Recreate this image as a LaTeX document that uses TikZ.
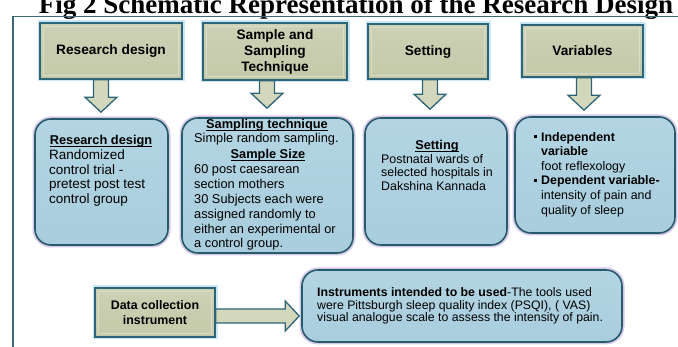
\documentclass[tikz,border=0pt]{standalone}
\usepackage{fontspec}
\setmainfont{Liberation Sans}
\newfontfamily\titlefont{Liberation Serif}
\usetikzlibrary{calc}
\definecolor{khaki}{HTML}{C4C9A9}
\definecolor{khakiT}{HTML}{CDD1B5}
\definecolor{khakiL}{HTML}{D3D7BC}
\definecolor{bevelc}{HTML}{DFE2CF}
\definecolor{tealc}{HTML}{2C6577}
\definecolor{glowblue}{HTML}{A3D6EC}
\definecolor{lblue}{HTML}{A8CDDD}
\definecolor{lblueT}{HTML}{B3D5E3}
\definecolor{bteal}{HTML}{285B6A}
\definecolor{glowpurple}{HTML}{B7A3DA}
\definecolor{framec}{HTML}{3E6878}
\tikzset{
  topbox/.style={draw=tealc, line width=1.6pt, top color=khakiT, bottom color=khaki,
    inner sep=2pt, align=center, text=black,
    font=\fontsize{13.7}{16}\selectfont\bfseries,
    preaction={draw=glowblue, line width=5pt, opacity=0.6}},
  bevel/.style={draw=bevelc, line width=1pt, opacity=0.8},
  botbox/.style={draw=bteal, line width=1.6pt, top color=lblueT, bottom color=lblue,
    rounded corners=16pt,
    preaction={draw=glowpurple, line width=5pt, opacity=0.6}},
  blk/.style={fill=khakiL, draw=tealc, line width=1.3pt, line join=miter},
  head/.style={inner sep=0pt, anchor=base, font=\fontsize{12.8}{14.6}\selectfont\bfseries},
  body/.style={inner sep=0pt, anchor=north west, align=left},
}
\newcommand\dnarrow[2]{%
  \filldraw[blk] ($(#1)+(-7.5,0)$) -- ($(#1)+(7.5,0)$) -- ($(#2)+(7.5,-15)$) -- ($(#2)+(16,-15)$)
    -- (#2) -- ($(#2)+(-16,-15)$) -- ($(#2)+(-7.5,-15)$) -- cycle;}
\newcommand\rtarrow[2]{%
  \filldraw[blk] ($(#1)+(0,-7)$) -- ($(#2)+(-14,-7)$) -- ($(#2)+(-14,-15)$) -- (#2)
    -- ($(#2)+(-14,15)$) -- ($(#2)+(-14,7)$) -- ($(#1)+(0,7)$) -- cycle;}
\newcommand\bul{\rule[0.22em]{0.28em}{0.28em}\hspace{0.3em}}
\newcommand\ulx[1]{\setbox0\hbox{#1}\rlap{\rule[-1.6pt]{\wd0}{0.9pt}}\box0}
\begin{document}
\begin{tikzpicture}[x=1pt,y=-1pt]
\useasboundingbox (0,0) rectangle (678,347);
% title
\node[font=\titlefont\bfseries\fontsize{27}{30}\selectfont, anchor=base, inner sep=0pt] (title) at (356,14) {Fig 2 Schematic Representation of the Research Design};
% frame
\draw[framec, line width=1.3pt] (13,360) -- (13,16.5) -- (700,16.5);
% top boxes
\node[topbox, minimum width=142pt, minimum height=56pt] (t1) at (111,51) {Research design};
\node[topbox, minimum width=144pt, minimum height=57pt] (t2) at (275,51.5) {Sample and\\Sampling\\Technique};
\node[topbox, minimum width=120pt, minimum height=55pt] (t3) at (428,51.5) {Setting};
\node[topbox, minimum width=121pt, minimum height=52pt] (t4) at (582.5,51) {Variables};
% bottom boxes
\path (101.5,182) coordinate (b1c) (267.5,185.5) coordinate (b2c) (436,181.5) coordinate (b3c) (595,175) coordinate (b4c);
\node[botbox, minimum width=133pt, minimum height=126pt] (b1) at (b1c) {};
\node[botbox, minimum width=171pt, minimum height=135pt] (b2) at (b2c) {};
\node[botbox, minimum width=142pt, minimum height=127pt] (b3) at (b3c) {};
\node[botbox, minimum width=160pt, minimum height=116pt] (b4) at (b4c) {};
% arrows
\coordinate (a1s) at ([xshift=-10pt]t1.south);
\coordinate (a1e) at ($(a1s |- b1.north)+(0,-6)$);
\coordinate (a2s) at ([xshift=-8pt]t2.south);
\coordinate (a2e) at ($(a2s |- b2.north)+(0,-9)$);
\coordinate (a3s) at ([xshift=2pt]t3.south);
\coordinate (a3e) at ($(a3s |- b3.north)+(0,-8)$);
\coordinate (a4s) at ([xshift=1.5pt]t4.south);
\coordinate (a4e) at ($(a4s |- b4.north)+(0,-6)$);
\dnarrow{a1s}{a1e}
\dnarrow{a2s}{a2e}
\dnarrow{a3s}{a3e}
\dnarrow{a4s}{a4e}
% box 1 text
\node[head] (b1h) at (101,145) {\ulx{Research design}};
\node[body, font=\fontsize{13.5}{14.6}\selectfont] (b1t) at (49,149.5) {Randomized\\control trial -\\pretest post test\\control group};
% box 2 text
\node[head] (b2h1) at (267,129) {\ulx{Sampling technique}};
\node[inner sep=0pt, anchor=base west, font=\fontsize{12.8}{14.8}\selectfont] (b2t1) at (194,143) {Simple random sampling.};
\node[head] (b2h2) at (268,159) {\ulx{Sample Size}};
\node[body, font=\fontsize{12.8}{14.8}\selectfont] (b2t2) at (194,164.8) {60 post caesarean\\section mothers\\30 Subjects each were\\assigned randomly to\\either an experimental or\\a control group.};
% box 3 text
\node[head] (b3h) at (437,150) {\ulx{Setting}};
\node[body, font=\fontsize{12.4}{13.7}\selectfont] (b3t) at (381,154) {Postnatal wards of\\selected hospitals in\\Dakshina Kannada};
% box 4 text
\node[body, font=\fontsize{12.4}{14.6}\selectfont] (b4t) at (541,132) {\llap{\bul}\textbf{Independent}\\\textbf{variable}\\foot reflexology\\\llap{\bul}\textbf{Dependent variable-}\\intensity of pain and\\quality of sleep};
% bottom row
\node[topbox, minimum width=120pt, minimum height=49pt, font=\fontsize{12.4}{15}\selectfont\bfseries] (d) at (155,312.5) {Data collection\\instrument};
\node[botbox, minimum width=320pt, minimum height=72pt] (bx) at (462,306) {};
\coordinate (rs) at ([yshift=-3.5pt]d.east);
\coordinate (re) at ($(rs -| bx.west)+(-2,0)$);
\rtarrow{rs}{re}
\node[body, font=\fontsize{12.3}{12.9}\selectfont] (bxt) at (317,287) {\textbf{Instruments intended to be used}-The tools used\\were Pittsburgh sleep quality index (PSQI), ( VAS)\\visual analogue scale to assess the intensity of pain.};
% bevel highlights on the khaki boxes
\foreach \n in {t1,t2,t3,t4,d}
  \draw[bevel] ([shift={(4,4)}]\n.north west) rectangle ([shift={(-4,-4)}]\n.south east);
\end{tikzpicture}
\end{document}
